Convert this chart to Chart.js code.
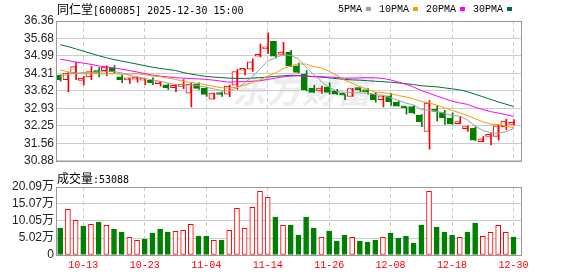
<!DOCTYPE html>
<html><head><meta charset="utf-8">
<script src="https://cdn.jsdelivr.net/npm/chart.js@4/dist/chart.umd.min.js"></script>
<style>
html,body{margin:0;padding:0;background:#fff;}
#wrap{position:relative;width:578px;height:276px;overflow:hidden;background:#fff;}
.abs{position:absolute;}
#title{left:57px;top:2px;font-size:12px;line-height:14px;color:#000;font-family:'Noto Sans CJK SC';white-space:nowrap}
.mono{font-family:'DejaVu Sans Mono';font-size:10px;}
#legend{left:338px;top:2px;display:flex;align-items:center;height:14px;font-family:'Liberation Mono';font-size:10px;color:#000;white-space:nowrap}
.sw{display:inline-block;width:5px;height:4px;margin:0 8px 0 4px;}
#vlab{left:57px;top:171px;font-size:12px;line-height:14px;color:#000;font-family:'Noto Sans CJK SC';white-space:nowrap}
#wm{left:232px;top:64px;font:italic bold 34px 'Noto Sans CJK SC';color:#ececf1;letter-spacing:1px;white-space:nowrap}
</style></head>
<body><div id="wrap">
<div id="wm" class="abs">东方财富</div>
<canvas id="pc" class="abs" style="left:0;top:0" width="578" height="170"></canvas>
<canvas id="vc" class="abs" style="left:0;top:170px" width="578" height="106"></canvas>
<div id="title" class="abs"></div>
<div id="legend" class="abs"></div>
<div id="vlab" class="abs"></div>
</div>
<script>
// ---- data ----
const stockName = '同仁堂';
const stockCode = '600085';
const stamp = '2025-12-30 15:00';
const dates = ['09-30','10-09','10-10','10-13','10-14','10-15','10-16','10-17','10-20','10-21',
'10-22','10-23','10-24','10-27','10-28','10-29','10-30','10-31','11-03','11-04',
'11-05','11-06','11-07','11-10','11-11','11-12','11-13','11-14','11-17','11-18',
'11-19','11-20','11-21','11-24','11-25','11-26','11-27','11-28','12-01','12-02',
'12-03','12-04','12-05','12-08','12-09','12-10','12-11','12-12','12-15','12-16',
'12-17','12-18','12-19','12-22','12-23','12-24','12-25','12-26','12-29','12-30'];
const tickDates = ['10-13','10-23','11-04','11-14','11-26','12-08','12-18','12-30'];
const open = [34.23,34.06,34.32,34.03,34.17,34.41,34.41,34.52,34.17,34.05,
34.08,34.04,34.03,33.90,33.86,33.75,33.80,33.53,33.89,33.73,
33.30,33.51,33.49,33.84,34.43,34.47,34.98,35.27,35.56,35.05,
35.14,34.60,34.28,33.73,33.62,33.78,33.62,33.48,33.40,33.73,
33.66,33.51,33.28,33.43,33.18,32.98,33.01,32.67,32.03,32.88,
32.77,32.54,32.34,32.14,32.16,31.63,31.84,31.84,32.22,32.31];
const high = [34.25,34.34,34.75,34.19,34.57,34.53,34.60,34.61,34.25,34.13,
34.18,34.06,34.13,33.98,33.90,33.87,34.06,33.94,33.94,33.77,
33.53,33.58,33.85,34.47,34.47,34.88,35.46,35.90,35.56,35.52,
35.21,34.72,34.42,33.84,33.81,33.94,33.68,33.49,33.72,33.75,
33.71,33.56,33.43,33.52,33.21,33.00,33.05,32.69,33.24,33.05,
32.86,32.76,32.61,32.25,32.22,31.84,31.97,32.29,32.52,32.50];
const low = [34.00,33.59,34.06,33.85,34.06,34.17,34.22,34.32,33.94,33.91,
33.96,33.86,33.86,33.81,33.68,33.59,33.71,32.99,33.68,33.40,
33.30,33.40,33.39,33.68,34.25,34.38,34.95,35.08,34.91,35.02,
34.57,34.32,33.62,33.56,33.52,33.49,33.47,33.28,33.40,33.59,
33.49,33.18,32.99,33.05,33.02,32.71,32.73,32.22,31.34,32.44,
32.31,32.31,32.34,32.03,31.68,31.63,31.50,31.69,32.10,32.29];
const close = [34.06,34.32,34.57,34.12,34.38,34.34,34.55,34.36,34.06,34.08,
34.10,34.06,33.94,33.93,33.75,33.84,33.86,33.88,33.72,33.48,
33.53,33.48,33.81,34.38,34.47,34.76,35.00,35.33,34.98,35.14,
34.60,34.34,33.66,33.56,33.73,33.56,33.49,33.45,33.71,33.67,
33.58,33.28,33.43,33.20,33.02,32.96,32.76,32.41,33.14,32.82,
32.57,32.33,32.42,32.19,31.69,31.74,31.87,32.25,32.44,32.34];
const volume = [79800,135000,102400,85700,90600,97500,87700,76800,68000,52200,
43300,47300,65000,76800,68000,69900,72900,90600,56100,56100,
43300,44300,72900,137900,78800,140900,188100,170400,112300,87700,
88700,59100,112300,79800,52200,70900,41400,59100,52200,41400,
38400,44300,52200,65000,50200,56100,35500,88700,188100,82700,
68000,59100,52200,68000,94600,55200,67000,87700,67000,53088];
const ma5 = [34.19,34.27,34.31,34.34,34.33,34.36,34.38,34.37,34.33,34.23,
34.16,34.11,34.05,34.00,33.93,33.87,33.86,33.85,33.83,33.76,
33.70,33.63,33.62,33.74,33.93,34.18,34.48,34.79,34.91,35.04,
35.01,34.88,34.54,34.26,33.98,33.77,33.60,33.56,33.55,33.54,
33.53,33.48,33.45,33.35,33.25,33.14,33.07,32.89,32.86,32.82,
32.74,32.65,32.63,32.48,32.24,32.07,31.98,31.96,32.02,32.15];
const ma10 = [34.44,34.37,34.31,34.29,34.29,34.29,34.29,34.29,34.28,34.28,
34.29,34.26,34.20,34.18,34.12,34.07,34.00,33.95,33.92,33.86,
33.80,33.74,33.73,33.77,33.85,33.94,34.05,34.20,34.32,34.49,
34.60,34.68,34.67,34.58,34.51,34.39,34.24,34.05,33.92,33.78,
33.68,33.57,33.55,33.51,33.44,33.38,33.31,33.20,33.15,33.06,
32.96,32.86,32.76,32.66,32.53,32.41,32.32,32.30,32.23,32.18];
const ma20 = [34.86,34.81,34.75,34.71,34.66,34.60,34.56,34.52,34.47,34.42,
34.36,34.30,34.24,34.20,34.17,34.14,34.12,34.10,34.09,34.07,
34.04,34.00,33.96,33.98,33.98,34.00,34.02,34.07,34.12,34.17,
34.20,34.21,34.20,34.18,34.18,34.16,34.15,34.12,34.12,34.13,
34.14,34.13,34.11,34.05,33.97,33.88,33.77,33.63,33.53,33.42,
33.32,33.22,33.15,33.09,32.98,32.89,32.81,32.75,32.69,32.62];
const ma30 = [35.43,35.36,35.27,35.18,35.09,35.00,34.92,34.85,34.79,34.73,
34.67,34.61,34.55,34.50,34.46,34.42,34.34,34.28,34.23,34.19,
34.16,34.14,34.12,34.11,34.11,34.12,34.14,34.16,34.19,34.21,
34.23,34.23,34.20,34.18,34.16,34.13,34.10,34.07,34.05,34.04,
34.02,34.00,33.98,33.96,33.93,33.90,33.87,33.82,33.80,33.78,
33.74,33.70,33.66,33.59,33.49,33.39,33.29,33.19,33.10,33.01];
const maNames = ['5PMA','10PMA','20PMA','30PMA'];
const maColors = ['#a0a0a0','#f0a000','#ff00ff','#006f35'];
const priceTicks = [30.88,31.56,32.25,32.93,33.62,34.31,34.99,35.68,36.36];
const volTicks = [0,50200,100500,150700,200900];
const volTickLabels = ['0','5.02万','10.05万','15.07万','20.09万'];
const volLabel = '成交量';

// ---- texts ----
document.getElementById('title').innerHTML = stockName + '<span class="mono">[' + stockCode + '] ' + stamp + '</span>';
document.getElementById('vlab').innerHTML = volLabel + '<span class="mono">:' + volume[volume.length-1] + '</span>';
const lg = document.getElementById('legend');
maNames.forEach((n,k)=>{
  const t=document.createElement('span'); t.textContent=n; lg.appendChild(t);
  const s=document.createElement('span'); s.className='sw'; s.style.background=maColors[k]; lg.appendChild(s);
});

// ---- chart ----
const RED='#ff0000', GREEN='#008000';
const up = close.map((c,i)=> c >= open[i]);
const volUp = close.map((c,i)=> i===0 ? c >= open[i] : c >= close[i-1]);
const tickIdx = tickDates.map(d=>dates.indexOf(d));
const X_MIN=-0.55, X_MAX=60.1;

function xScale(showLabels){
  return {type:'linear', min:X_MIN, max:X_MAX, offset:false,
    afterBuildTicks: s=>{ s.ticks = tickIdx.map(v=>({value:v})); },
    afterFit: s=>{ s.height = showLabels ? 21 : 0; },
    ticks:{display:showLabels, autoSkip:false, maxRotation:0, color:RED,
      font:{family:"'Liberation Mono', monospace", size:10}, padding:4,
      callback:(v)=>dates[v]},
    grid:{color:'#cccccc', lineWidth:1, drawTicks:false, offset:false},
    border:{display:false, dash:[4,3]}
  };
}
const frame = {id:'frame', afterDraw(c){
  const a=c.chartArea, ctx=c.ctx; ctx.save(); ctx.strokeStyle='#999'; ctx.lineWidth=1;
  ctx.strokeRect(Math.round(a.left)+0.5, Math.round(a.top)+0.5, Math.round(a.right-a.left)-1, Math.round(a.bottom-a.top));
  ctx.restore();
}};
const yFont = {family:"'Liberation Sans', 'Noto Sans CJK SC', sans-serif", size:12};

const pts = arr => arr.map((v,i)=>({x:i, y:v}));
const lineDs = [ma5,ma10,ma20,ma30].map((arr,k)=>({type:'line', label:maNames[k], data:pts(arr),
  borderColor:maColors[k], borderWidth:1, pointRadius:0, tension:0, order:1}));

new Chart(document.getElementById('pc'), {
  data:{datasets:[
    {type:'bar', data:dates.map((d,i)=>({x:i, y:[low[i],high[i]]})),
      backgroundColor:up.map(u=>u?RED:GREEN), barThickness:1, order:3},
    {type:'bar', data:dates.map((d,i)=>({x:i, y:[open[i],close[i]]})),
      backgroundColor:up.map(u=>u?'#ffffff':GREEN), borderColor:up.map(u=>u?RED:GREEN),
      borderWidth:1, borderSkipped:false, barThickness:5, minBarLength:2, order:2},
    ...lineDs
  ]},
  options:{responsive:false, animation:false, devicePixelRatio:1, events:[],
    layout:{padding:{left:0,right:56,top:21,bottom:5}},
    plugins:{legend:{display:false}, tooltip:{enabled:false}},
    scales:{
      x:xScale(false),
      y:{min:30.88, max:36.36,
        afterBuildTicks: s=>{ s.ticks = priceTicks.map(v=>({value:v})); },
        afterFit: s=>{ s.width = 56; },
        ticks:{color:'#222', font:yFont, padding:2, autoSkip:false, callback:v=>v.toFixed(2)},
        grid:{color:'#cccccc', drawTicks:false}, border:{display:false}}
    }},
  plugins:[frame]
});

new Chart(document.getElementById('vc'), {
  data:{datasets:[
    {type:'bar', data:volume.map((v,i)=>({x:i, y:v})),
      backgroundColor:volUp.map(u=>u?'#ffffff':GREEN), borderColor:volUp.map(u=>u?RED:GREEN),
      borderWidth:1, borderSkipped:false, barThickness:5}
  ]},
  options:{responsive:false, animation:false, devicePixelRatio:1, events:[],
    layout:{padding:{left:0,right:56,top:17,bottom:0}},
    plugins:{legend:{display:false}, tooltip:{enabled:false}},
    scales:{
      x:xScale(true),
      y:{min:0, max:200900,
        afterBuildTicks: s=>{ s.ticks = volTicks.map(v=>({value:v})); },
        afterFit: s=>{ s.width = 56; },
        ticks:{color:'#222', font:yFont, padding:2, autoSkip:false, callback:(v)=>volTickLabels[volTicks.indexOf(v)]},
        grid:{color:'#cccccc', drawTicks:false}, border:{display:false}}
    }},
  plugins:[frame]
});
</script>
</body></html>
